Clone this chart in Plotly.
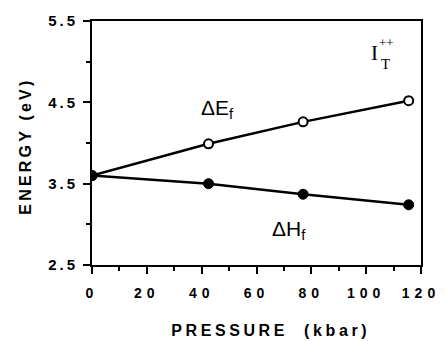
import plotly.graph_objects as go

pressure = [0, 42.5, 77, 115.5]
delta_E = [3.60, 3.99, 4.26, 4.52]
delta_H = [3.60, 3.50, 3.37, 3.24]

x_ticks = [0, 20, 40, 60, 80, 100, 120]
y_ticks = [2.5, 3.5, 4.5, 5.5]

fig = go.Figure()
fig.add_trace(go.Scatter(
    x=pressure, y=delta_E, mode="lines+markers",
    line=dict(color="black", width=2.5),
    marker=dict(symbol="circle", size=9, color="white", line=dict(color="black", width=2)),
    showlegend=False))
fig.add_trace(go.Scatter(
    x=pressure, y=delta_H, mode="lines+markers",
    line=dict(color="black", width=2.5),
    marker=dict(symbol="circle", size=10, color="black", line=dict(color="black", width=1)),
    showlegend=False))

tickfont = dict(family="Liberation Sans", size=14, color="black", weight="bold")

fig.update_xaxes(
    range=[0, 120], tickvals=x_ticks, ticktext=[str(v) for v in x_ticks],
    showline=True, linecolor="black", linewidth=2, mirror=True,
    ticks="outside", ticklen=7, tickwidth=2, tickcolor="black",
    minor=dict(dtick=10, tick0=0, ticks="outside", ticklen=4, tickwidth=2, tickcolor="black", showgrid=False),
    showgrid=False, zeroline=False, tickfont=tickfont, ticklabelstandoff=7)
fig.update_yaxes(
    range=[2.5, 5.5], tickvals=y_ticks, ticktext=[f"{v:.1f}" for v in y_ticks],
    showline=True, linecolor="black", linewidth=2, mirror=True,
    ticks="outside", ticklen=7, tickwidth=2, tickcolor="black",
    minor=dict(dtick=0.5, tick0=2.5, ticks="outside", ticklen=4, tickwidth=2, tickcolor="black", showgrid=False),
    showgrid=False, zeroline=False, tickfont=dict(tickfont, size=15), ticklabelstandoff=2)

titlefont = dict(family="Liberation Sans", size=16, color="black", weight="bold")
labfont = dict(family="Liberation Sans", size=21, color="black")
serif = dict(family="Liberation Serif", color="black")

annos = [
    dict(text="PRESSURE  (kbar)", xref="paper", yref="paper", x=0.543, y=-0.268,
         xanchor="center", yanchor="middle", font=titlefont),
    dict(text="ENERGY (eV)", xref="paper", yref="paper", x=(25 - 92.3) / 336, y=(265 - 145) / 246,
         xanchor="center", yanchor="middle", textangle=-90, font=titlefont),
    dict(text="ΔE<sub>f</sub>", x=45.6, y=4.42, xanchor="center", yanchor="middle", font=labfont),
    dict(text="ΔH<sub>f</sub>", x=72.0, y=2.93, xanchor="center", yanchor="middle", font=labfont),
    dict(text="I", x=102.9, y=5.11, xanchor="center", yanchor="middle", font=dict(serif, size=21)),
    dict(text="++", x=107.4, y=5.24, xanchor="center", yanchor="middle", font=dict(serif, size=13)),
    dict(text="T", x=107.2, y=4.97, xanchor="center", yanchor="middle", font=dict(serif, size=15)),
]
for a in annos:
    a.setdefault("showarrow", False)
    fig.add_annotation(**a)

fig.update_layout(
    width=445, height=341,
    margin=dict(l=92, r=17, t=19, b=76),
    paper_bgcolor="white", plot_bgcolor="white",
)

post = """
document.body.style.margin = '0';
document.body.style.overflow = 'hidden';
var spacing = {'PRESSURE  (kbar)': '3.6px', 'ENERGY (eV)': '3.2px'};
document.querySelectorAll('.xtick text').forEach(function(t){t.style.letterSpacing='5px';});
document.querySelectorAll('.ytick text').forEach(function(t){t.style.letterSpacing='3px';});
document.querySelectorAll('.annotation-text').forEach(function(t){
  var s = spacing[t.textContent];
  if (s) { t.style.letterSpacing = s; }
});
"""

fig.write_html("out.html", post_script=post, config={"displayModeBar": False})
